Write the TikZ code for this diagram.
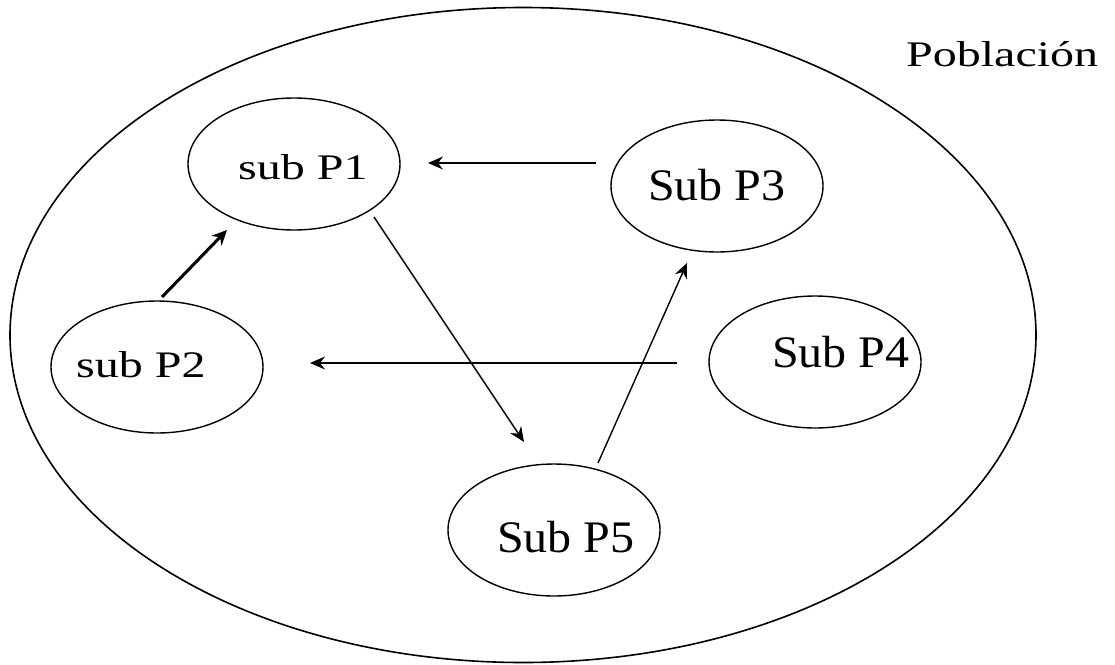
\documentclass[tikz,border=0pt]{standalone}
\usepackage{fontspec}
\setmainfont{Liberation Serif}
\usetikzlibrary{shapes.geometric,arrows.meta}

% labels: set wide, then flattened to the wanted height
\newcommand{\lbl}[2]{\scalebox{1}[#1]{\fontsize{48}{50}\selectfont #2}}

\begin{document}
\begin{tikzpicture}[x=1pt,y=-1pt,
  set/.style={ellipse,draw,line width=1.6pt,inner sep=0pt},
  sub/.style={ellipse,draw,line width=1.4pt,inner sep=0pt,
              minimum width=212pt,minimum height=132pt},
  txt/.style={anchor=base west,inner sep=0pt},
  flow/.style={line width=1.4pt,-{Stealth[length=15pt,width=13pt,inset=5pt]}},
  boldflow/.style={line width=3pt,-{Stealth[length=15pt,width=14pt,inset=5pt]}}]
  \useasboundingbox (0,0) rectangle (1115,664);

  % the whole population
  \node[set,minimum width=1026pt,minimum height=655pt] (pop) at (523,335) {};
  \node[txt] (poptxt) at (906,66) {\lbl{0.75}{Población}};

  % sub-populations
  \node[sub] (p1) at (294,164) {};
  \node[sub] (p2) at (157,367) {};
  \node[sub] (p3) at (717,186) {};
  \node[sub] (p4) at (815,362) {};
  \node[sub] (p5) at (554,530) {};

  \node[txt] (t1) at (238,179) {\lbl{0.75}{sub P1}};
  \node[txt] (t2) at (76,377)  {\lbl{0.78}{sub P2}};
  \node[txt] (t3) at (648,200) {\lbl{0.94}{Sub P3}};
  \node[txt] (t4) at (772,367) {\lbl{0.94}{Sub P4}};
  \node[txt] (t5) at (497,552) {\lbl{0.94}{Sub P5}};

  % end points of the migration arrows
  \coordinate (a3s) at (596,163);
  \coordinate (a3e) at (428,163);
  \coordinate (a2s) at (162,297);
  \coordinate (a2e) at (227,230);
  \coordinate (a1s) at (374,217);
  \coordinate (a1e) at (524,442);
  \coordinate (a5s) at (598,463);
  \coordinate (a5e) at (687,263);
  \coordinate (a4s) at (677,363);
  \coordinate (a4e) at (310,363);

  \draw[flow] (a3s) -- (a3e);
  \draw[boldflow] (a2s) -- (a2e);
  \draw[flow] (a1s) -- (a1e);
  \draw[flow] (a5s) -- (a5e);
  \draw[flow] (a4s) -- (a4e);
\end{tikzpicture}
\end{document}
